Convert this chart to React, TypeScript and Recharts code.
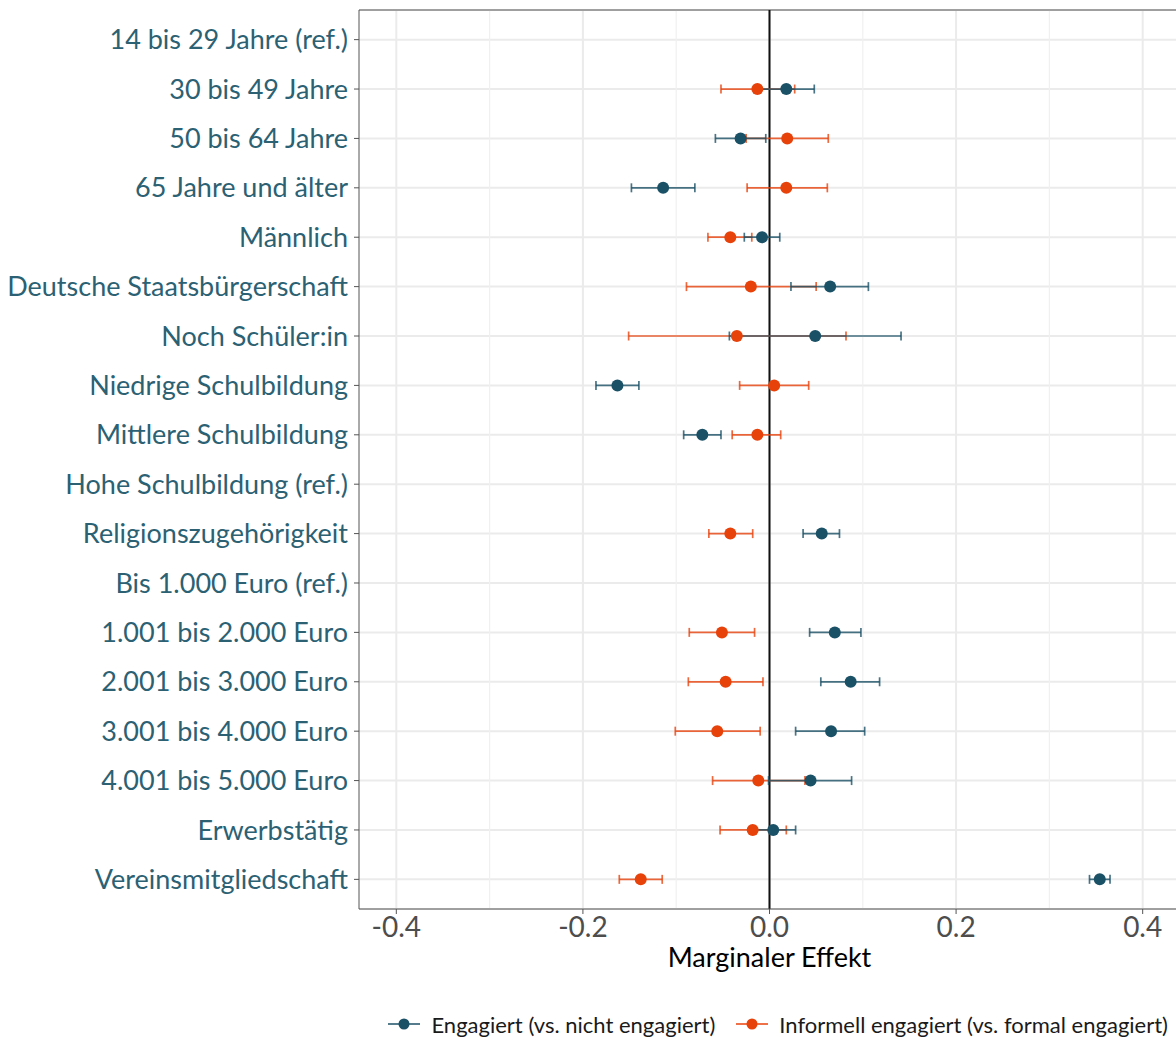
import {
  CartesianGrid,
  ErrorBar,
  Legend,
  ReferenceLine,
  Scatter,
  ScatterChart,
  XAxis,
  YAxis,
} from "recharts";

const categories = [
  "14 bis 29 Jahre (ref.)",
  "30 bis 49 Jahre",
  "50 bis 64 Jahre",
  "65 Jahre und älter",
  "Männlich",
  "Deutsche Staatsbürgerschaft",
  "Noch Schüler:in",
  "Niedrige Schulbildung",
  "Mittlere Schulbildung",
  "Hohe Schulbildung (ref.)",
  "Religionszugehörigkeit",
  "Bis 1.000 Euro (ref.)",
  "1.001 bis 2.000 Euro",
  "2.001 bis 3.000 Euro",
  "3.001 bis 4.000 Euro",
  "4.001 bis 5.000 Euro",
  "Erwerbstätig",
  "Vereinsmitgliedschaft",
];

// null = reference category, no estimate
const engagiertEst = [null, 0.018, -0.031, -0.114, -0.008, 0.065, 0.049, -0.163, -0.072, null, 0.056, null, 0.07, 0.087, 0.066, 0.044, 0.004, 0.354];
const engagiertLow = [null, -0.012, -0.058, -0.148, -0.027, 0.023, -0.043, -0.186, -0.092, null, 0.036, null, 0.043, 0.055, 0.028, -0.001, -0.02, 0.343];
const engagiertHigh = [null, 0.048, -0.004, -0.08, 0.011, 0.106, 0.141, -0.14, -0.052, null, 0.075, null, 0.098, 0.118, 0.102, 0.088, 0.028, 0.365];

const informellEst = [null, -0.013, 0.019, 0.018, -0.042, -0.02, -0.035, 0.005, -0.013, null, -0.042, null, -0.051, -0.047, -0.056, -0.012, -0.018, -0.138];
const informellLow = [null, -0.052, -0.025, -0.024, -0.066, -0.089, -0.151, -0.032, -0.04, null, -0.065, null, -0.086, -0.087, -0.101, -0.061, -0.053, -0.161];
const informellHigh = [null, 0.027, 0.063, 0.062, -0.019, 0.05, 0.082, 0.042, 0.012, null, -0.018, null, -0.016, -0.007, -0.01, 0.038, 0.018, -0.115];

const xTicks = [-0.4, -0.2, 0, 0.2, 0.4];
const xMinorTicks = [-0.3, -0.1, 0.1, 0.3];

const BLUE = "#1b5166";
const ORANGE = "#e8420b";
const FONT = "Lato, 'Open Sans', sans-serif";

const buildSeries = (est: (number | null)[], low: (number | null)[], high: (number | null)[]) =>
  est
    .map((v, i) =>
      v === null
        ? null
        : { row: i + 1, value: v, err: [v - (low[i] as number), (high[i] as number) - v] },
    )
    .filter((d) => d !== null);

const engagiertData = buildSeries(engagiertEst, engagiertLow, engagiertHigh);
const informellData = buildSeries(informellEst, informellLow, informellHigh);

const dot = (color: string) => (props: any) => (
  <circle cx={props.cx} cy={props.cy} r={6} fill={color} />
);

const LegendGlyph = ({ color }: { color: string }) => (
  <svg width={34} height={20} style={{ marginRight: 10 }}>
    <line x1={1} x2={33} y1={10} y2={10} stroke={color} strokeWidth={1.5} />
    <circle cx={17} cy={10} r={5.5} fill={color} />
  </svg>
);

const CustomLegend = () => (
  <div
    style={{
      display: "flex",
      justifyContent: "flex-end",
      alignItems: "center",
      height: 26,
      paddingRight: 12,
      marginTop: -4,
      fontFamily: FONT,
      fontSize: 22,
      color: "#1a1a1a",
    }}
  >
    <LegendGlyph color={BLUE} />
    <span style={{ marginRight: 20 }}>Engagiert (vs. nicht engagiert)</span>
    <LegendGlyph color={ORANGE} />
    <span>Informell engagiert (vs. formal engagiert)</span>
  </div>
);

export default function App() {
  return (
    <div
      style={{
        position: "absolute",
        left: 0,
        top: 0,
        width: 1176,
        height: 1037,
        overflow: "hidden",
        background: "#fff",
      }}
    >
      <ScatterChart
        width={1190}
        height={1037}
        margin={{ top: 10, right: 10, bottom: 0, left: 0 }}
      >
        <CartesianGrid
          stroke="#ebebeb"
          strokeWidth={2}
          verticalValues={xTicks}
        />
        {xMinorTicks.map((t) => (
          <ReferenceLine key={t} x={t} stroke="#f0f0f0" strokeWidth={1.2} />
        ))}
        <XAxis
          type="number"
          dataKey="value"
          domain={[-0.44, 0.44]}
          ticks={xTicks}
          allowDataOverflow
          tickFormatter={(v: number) => v.toFixed(1)}
          height={106}
          stroke="#555"
          tickSize={5}
          tickMargin={3}
          tick={{ fill: "#4d4d4d", fontSize: 28, fontFamily: FONT }}
          label={{
            value: "Marginaler Effekt",
            position: "insideTop",
            offset: 39,
            fill: "#000",
            fontSize: 27,
            fontFamily: FONT,
          }}
        />
        <YAxis
          type="number"
          dataKey="row"
          domain={[0.4, 18.6]}
          reversed
          ticks={categories.map((_, i) => i + 1)}
          interval={0}
          tickFormatter={(v: number) => categories[v - 1]}
          width={359}
          stroke="#555"
          tickSize={5}
          tickMargin={6}
          tick={{ fill: "#2b6173", fontSize: 27, fontFamily: FONT }}
        />
        <ReferenceLine y={0.4} stroke="#555" strokeWidth={1} />
        <ReferenceLine x={0} stroke="#111" strokeWidth={2} />
        <Legend verticalAlign="bottom" content={CustomLegend} />
        <Scatter
          data={informellData}
          shape={dot(ORANGE)}
          isAnimationActive={false}
        >
          <ErrorBar
            dataKey="err"
            direction="x"
            width={4.5}
            stroke={ORANGE}
            strokeOpacity={0.8}
            strokeWidth={1.7}
            isAnimationActive={false}
          />
        </Scatter>
        <Scatter
          data={engagiertData}
          shape={dot(BLUE)}
          isAnimationActive={false}
        >
          <ErrorBar
            dataKey="err"
            direction="x"
            width={4.5}
            stroke={BLUE}
            strokeOpacity={0.8}
            strokeWidth={1.7}
            isAnimationActive={false}
          />
        </Scatter>
      </ScatterChart>
    </div>
  );
}
